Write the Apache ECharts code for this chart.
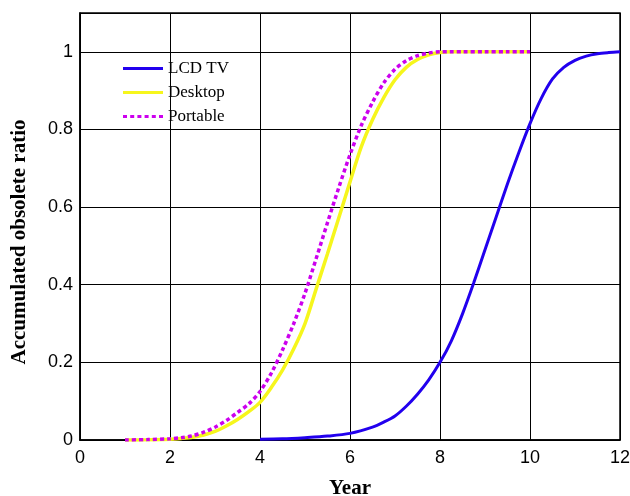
<!DOCTYPE html>
<html>
<head>
<meta charset="utf-8">
<script src="https://cdn.jsdelivr.net/npm/echarts@6/dist/echarts.min.js"></script>
<style>html,body{margin:0;padding:0;background:#fff;}#c{width:630px;height:496px;}</style>
</head>
<body>
<div id="c"></div>
<script>
var lcdYears = [4, 4.5, 5, 5.5, 6, 6.5, 6.75, 7, 7.25, 7.5, 7.75, 8, 8.25, 8.5, 8.75, 9, 9.25, 9.5, 9.75, 10, 10.25, 10.5, 10.75, 11, 11.25, 11.5, 11.75, 12];
var lcdValues = [0.002, 0.003, 0.006, 0.010, 0.017, 0.033, 0.046, 0.062, 0.087, 0.118, 0.155, 0.20, 0.255, 0.325, 0.405, 0.49, 0.575, 0.66, 0.74, 0.815, 0.88, 0.93, 0.96, 0.978, 0.989, 0.995, 0.998, 1.0];

var pcYears = [1, 1.5, 2, 2.25, 2.5, 2.75, 3, 3.25, 3.5, 3.75, 4, 4.25, 4.5, 4.75, 5, 5.25, 5.5, 5.75, 6, 6.25, 6.5, 6.75, 7, 7.25, 7.5, 7.75, 8, 8.25, 8.5, 9, 9.5, 10];
var desktopValues = [0, 0.0005, 0.002, 0.004, 0.007, 0.013, 0.022, 0.036, 0.053, 0.073, 0.097, 0.135, 0.18, 0.235, 0.30, 0.39, 0.48, 0.572, 0.665, 0.755, 0.825, 0.882, 0.928, 0.96, 0.98, 0.992, 0.998, 1, 1, 1, 1, 1];
var portableValues = [0, 0.001, 0.003, 0.006, 0.011, 0.020, 0.033, 0.050, 0.071, 0.093, 0.125, 0.172, 0.232, 0.30, 0.378, 0.468, 0.56, 0.65, 0.735, 0.81, 0.87, 0.92, 0.955, 0.977, 0.99, 0.997, 1, 1, 1, 1, 1, 1];

var seriesNames = ['LCD TV', 'Desktop', 'Portable'];
var xTitle = 'Year';
var yTitle = 'Accumulated obsolete ratio';

function pairs(xs, ys) { return xs.map(function (x, i) { return [x, ys[i]]; }); }

var solidIcon = 'path://M0,0h40v3h-40z';
var dotIcon = 'path://M0,0h4v3h-4z M7.2,0h4v3h-4z M14.4,0h4v3h-4z M21.6,0h4v3h-4z M28.8,0h4v3h-4z M36,0h4v3h-4z';

var chart = echarts.init(document.getElementById('c'));
chart.setOption({
  animation: false,
  backgroundColor: '#ffffff',
  grid: { left: 80, right: 10, top: 13, bottom: 56, outerBoundsMode: 'none', containLabel: false,
    show: true, borderColor: '#000', borderWidth: 1.5, backgroundColor: 'transparent' },
  legend: {
    data: [
      { name: seriesNames[0], icon: solidIcon },
      { name: seriesNames[1], icon: solidIcon },
      { name: seriesNames[2], icon: dotIcon }
    ],
    orient: 'vertical',
    left: 123, top: 60, padding: 0,
    itemWidth: 40, itemHeight: 3, itemGap: 7, itemTextGap: 5,
    textStyle: { fontFamily: 'Liberation Serif', fontSize: 17, lineHeight: 17, color: '#000' }
  },
  xAxis: {
    type: 'value', min: 0, max: 12, interval: 2,
    name: xTitle, nameLocation: 'middle', nameGap: 38,
    nameTextStyle: { fontFamily: 'Liberation Serif', fontWeight: 'bold', fontSize: 21, color: '#000' },
    axisLine: { show: true, lineStyle: { color: '#000', width: 1.5 } },
    axisTick: { show: false },
    axisLabel: { fontFamily: 'Liberation Sans', fontSize: 18, color: '#000', margin: 9 },
    splitLine: { show: true, lineStyle: { color: '#000', width: 1 } }
  },
  yAxis: {
    type: 'value', min: 0, max: 1.1, interval: 0.2,
    axisLine: { show: true, lineStyle: { color: '#000', width: 1.5 } },
    axisTick: { show: false },
    axisLabel: { fontFamily: 'Liberation Sans', fontSize: 18, color: '#000', margin: 7, showMaxLabel: false,
      formatter: function (v) { return v > 1.05 ? '' : String(Math.round(v * 10) / 10); } },
    splitLine: { show: true, lineStyle: { color: '#000', width: 1 } }
  },
  graphic: [{
    type: 'text', x: 20, y: 242,
    rotation: Math.PI / 2,
    style: { text: yTitle, fontFamily: 'Liberation Serif', fontWeight: 'bold', fontSize: 21, fill: '#000',
      align: 'center', verticalAlign: 'middle' }
  }],
  series: [
    { name: seriesNames[0], type: 'line', data: pairs(lcdYears, lcdValues), showSymbol: false, symbol: 'none',
      smooth: 0.3,
      lineStyle: { color: '#2200ee', width: 3 }, itemStyle: { color: '#2200ee' }, z: 3 },
    { name: seriesNames[1], type: 'line', data: pairs(pcYears, desktopValues), showSymbol: false, symbol: 'none',
      smooth: 0.3,
      lineStyle: { color: '#f6f61c', width: 3.5 }, itemStyle: { color: '#f6f61c' }, z: 4 },
    { name: seriesNames[2], type: 'line', data: pairs(pcYears, portableValues), showSymbol: false, symbol: 'none',
      smooth: 0.3,
      lineStyle: { color: '#cc00ee', width: 3.5, type: [4, 3] }, itemStyle: { color: '#cc00ee' }, z: 5 }
  ]
});
</script>
</body>
</html>
